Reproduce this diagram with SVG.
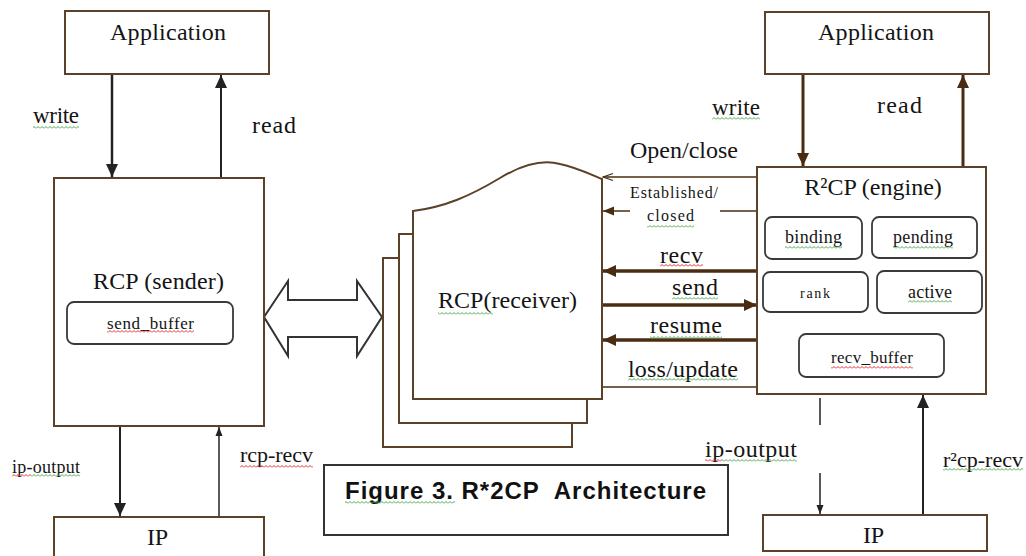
<svg xmlns="http://www.w3.org/2000/svg" width="1026" height="556" viewBox="0 0 1026 556">
<defs>
<style>
.box{fill:#fff;stroke:#5b4128;stroke-width:2}
.sub{fill:#fff;stroke:#3a3a3a;stroke-width:1.8}
.t{font-family:"Liberation Serif","Times New Roman",serif;fill:#141414}
.cap{font-family:"Liberation Sans",Arial,sans-serif;font-weight:bold;fill:#111}
.k{stroke:#222;fill:none}
.br{stroke:#4a2c12;fill:none}
.sg{fill:url(#sqg)}
.sr{fill:url(#sqr)}
</style>
<pattern id="sqg" width="4" height="3" patternUnits="userSpaceOnUse"><path d="M0,2.5 L2,0.5 L4,2.5" stroke="#4aa84a" stroke-width="1" fill="none"/></pattern>
<pattern id="sqr" width="4" height="3" patternUnits="userSpaceOnUse"><path d="M0,2.5 L2,0.5 L4,2.5" stroke="#e03030" stroke-width="1" fill="none"/></pattern>
<marker id="ak" markerUnits="userSpaceOnUse" markerWidth="14" markerHeight="14" viewBox="0 0 14 14" refX="13" refY="7" orient="auto"><path d="M0,1 L13,7 L0,13 z" fill="#222"/></marker>
<marker id="aks" markerUnits="userSpaceOnUse" markerWidth="10" markerHeight="10" viewBox="0 0 10 10" refX="9" refY="5" orient="auto"><path d="M0,1.5 L9,5 L0,8.5 z" fill="#222"/></marker>
<marker id="ab" markerUnits="userSpaceOnUse" markerWidth="14" markerHeight="14" viewBox="0 0 14 14" refX="13" refY="7" orient="auto"><path d="M0,1 L13,7 L0,13 z" fill="#4a2c12"/></marker>
<marker id="abs" markerUnits="userSpaceOnUse" markerWidth="12" markerHeight="12" viewBox="0 0 12 12" refX="11" refY="6" orient="auto"><path d="M0,1.5 L11,6 L0,10.5 z" fill="#4a2c12"/></marker>
<marker id="ao" markerUnits="userSpaceOnUse" markerWidth="12" markerHeight="12" viewBox="0 0 12 12" refX="11" refY="6" orient="auto"><path d="M1,2.5 L11,6 L1,9.5" fill="none" stroke="#4a2c12" stroke-width="1.3"/></marker>
</defs>
<rect width="1026" height="556" fill="#fff"/>

<g id="connectors">
<line class="k" x1="112" y1="74" x2="112" y2="177" stroke-width="2.5" marker-end="url(#ak)"/>
<line class="k" x1="221" y1="177" x2="221" y2="75" stroke-width="2" marker-end="url(#ak)"/>
<line class="k" x1="120" y1="426" x2="120" y2="516" stroke-width="2" marker-end="url(#ak)"/>
<line class="k" x1="219" y1="516" x2="219" y2="427" stroke-width="1.5" marker-end="url(#aks)"/>
<line class="br" x1="803" y1="74" x2="803" y2="166" stroke-width="3" marker-end="url(#ab)"/>
<line class="br" x1="963" y1="166" x2="963" y2="75" stroke-width="3" marker-end="url(#ab)"/>
<line class="k" x1="820" y1="398" x2="820" y2="425" stroke-width="1.5"/>
<line class="k" x1="820" y1="473" x2="820" y2="514" stroke-width="1.5" marker-end="url(#aks)"/>
<line class="k" x1="923" y1="514" x2="923" y2="395" stroke-width="2" marker-end="url(#ak)"/>
<polygon points="264,317 288,281 288,300 357,300 357,281 382,317 357,356 357,337 288,337 288,356" fill="#fff" stroke="#333" stroke-width="2"/>
<line class="br" x1="757" y1="177" x2="603" y2="177" stroke-width="1.5" marker-end="url(#ao)"/>
<line class="br" x1="757" y1="211" x2="720" y2="211" stroke-width="1.5"/>
<line class="br" x1="630" y1="211" x2="603" y2="211" stroke-width="1.5" marker-end="url(#abs)"/>
<line class="br" x1="757" y1="271" x2="603" y2="271" stroke-width="3.5" marker-end="url(#ab)"/>
<line class="br" x1="598" y1="305" x2="757" y2="305" stroke-width="3.5" marker-end="url(#ab)"/>
<line class="br" x1="757" y1="340" x2="603" y2="340" stroke-width="3.5" marker-end="url(#ab)"/>
<line class="br" x1="757" y1="387" x2="598" y2="387" stroke-width="1.5"/>
</g>

<g id="app-left">
<rect class="box" x="65" y="11" width="204" height="63"/>
<text class="t" x="110" y="40" font-size="24" textLength="116">Application</text>
</g>
<g id="label-write-left">
<text class="t" x="33" y="123" font-size="23" textLength="46">write</text>
<rect class="sg" x="33" y="126" width="46" height="3"/>
</g>
<text class="t" x="252" y="133" font-size="24" textLength="44">read</text>

<g id="rcp-sender">
<rect class="box" x="54" y="178" width="210" height="248"/>
<text class="t" x="93" y="289" font-size="24" textLength="131">RCP (sender)</text>
<rect class="sub" x="67" y="302" width="166" height="42" rx="7"/>
<text class="t" x="107" y="329" font-size="17" textLength="87">send_buffer</text>
<rect class="sr" x="107" y="330" width="87" height="3"/>
</g>

<g id="label-ip-output-left">
<text class="t" x="12" y="473" font-size="18" textLength="68">ip-output</text>
<rect class="sr" x="12" y="474" width="18" height="3"/>
<rect class="sg" x="30" y="474" width="50" height="3"/>
</g>
<g id="label-rcp-recv">
<text class="t" x="240" y="462" font-size="22" textLength="73">rcp-recv</text>
<rect class="sr" x="240" y="465" width="73" height="3"/>
</g>

<g id="ip-left">
<rect class="box" x="54" y="517" width="210" height="50"/>
<text class="t" x="147" y="545" font-size="24" textLength="21">IP</text>
</g>

<g id="rcp-receiver">
<rect class="box" x="383" y="258" width="189" height="189" stroke-width="2.5"/>
<rect class="box" x="399" y="234" width="188" height="189" stroke-width="2.5"/>
<path class="box" stroke-width="2.5" d="M413,211 C445,207 470,196 500,178 C525,163 545,160 560,164 C575,167 590,174 602,179 L602,399 L413,399 Z"/>
<text class="t" x="438" y="308" font-size="24" textLength="139">RCP(receiver)</text>
<rect class="sg" x="438" y="312" width="55" height="3"/>
</g>

<g id="labels-middle">
<text class="t" x="630" y="158" font-size="24" textLength="108">Open/close</text>
<text class="t" x="630" y="198" font-size="16" textLength="88">Established/</text>
<text class="t" x="647" y="221" font-size="16" textLength="47">closed</text>
<rect class="sg" x="647" y="225" width="47" height="3"/>
<text class="t" x="660" y="263" font-size="24" textLength="43">recv</text>
<rect class="sr" x="660" y="264" width="43" height="3"/>
<text class="t" x="672" y="295" font-size="24" textLength="46">send</text>
<rect class="sg" x="672" y="297" width="46" height="3"/>
<text class="t" x="650" y="333" font-size="24" textLength="72">resume</text>
<rect class="sg" x="650" y="336" width="72" height="3"/>
<text class="t" x="628" y="377" font-size="24" textLength="110">loss/update</text>
<rect class="sg" x="628" y="378" width="110" height="3"/>
</g>

<g id="r2cp-engine">
<rect class="box" x="757" y="167" width="229" height="227"/>
<text class="t" x="873" y="195" font-size="24" text-anchor="middle">R²CP (engine)</text>
<rect class="sub" x="765" y="217" width="97" height="42" rx="7"/>
<text class="t" x="785" y="243" font-size="18" textLength="57">binding</text>
<rect class="sg" x="785" y="246" width="57" height="3"/>
<rect class="sub" x="872" y="217" width="105" height="41" rx="7"/>
<text class="t" x="893" y="243" font-size="18" textLength="60">pending</text>
<rect class="sg" x="893" y="246" width="60" height="3"/>
<rect class="sub" x="763" y="272" width="105" height="40" rx="7"/>
<text class="t" x="800" y="298" font-size="14" textLength="30">rank</text>
<rect class="sub" x="877" y="271" width="105" height="42" rx="7"/>
<text class="t" x="908" y="298" font-size="18" textLength="44">active</text>
<rect class="sg" x="908" y="300" width="44" height="3"/>
<rect class="sub" x="799" y="334" width="145" height="43" rx="7"/>
<text class="t" x="831" y="363" font-size="17" textLength="82">recv_buffer</text>
<rect class="sr" x="831" y="366" width="82" height="3"/>
</g>

<g id="app-right">
<rect class="box" x="765" y="12" width="224" height="62"/>
<text class="t" x="818" y="40" font-size="24" textLength="116">Application</text>
</g>
<g id="label-write-right">
<text class="t" x="712" y="115" font-size="23" textLength="48">write</text>
<rect class="sg" x="712" y="117" width="48" height="3"/>
</g>
<text class="t" x="877" y="113" font-size="24" textLength="45">read</text>

<g id="label-ip-output-right">
<text class="t" x="705" y="457" font-size="24" textLength="92">ip-output</text>
<rect class="sr" x="705" y="459" width="17" height="3"/>
<rect class="sg" x="722" y="459" width="75" height="3"/>
</g>
<g id="label-r2cp-recv">
<text class="t" x="943" y="467" font-size="22" textLength="80">r²cp-recv</text>
<rect class="sg" x="943" y="468" width="80" height="3"/>
</g>

<g id="ip-right">
<rect class="box" x="763" y="515" width="224" height="36"/>
<text class="t" x="863" y="543" font-size="24" textLength="21">IP</text>
</g>

<g id="caption">
<rect x="324" y="465" width="404" height="70" fill="#fff" stroke="#333" stroke-width="2"/>
<text class="cap" x="345" y="499" font-size="24" textLength="361" xml:space="preserve">Figure 3. R*2CP  Architecture</text>
<rect class="sg" x="345" y="501" width="110" height="3"/>
</g>
</svg>
